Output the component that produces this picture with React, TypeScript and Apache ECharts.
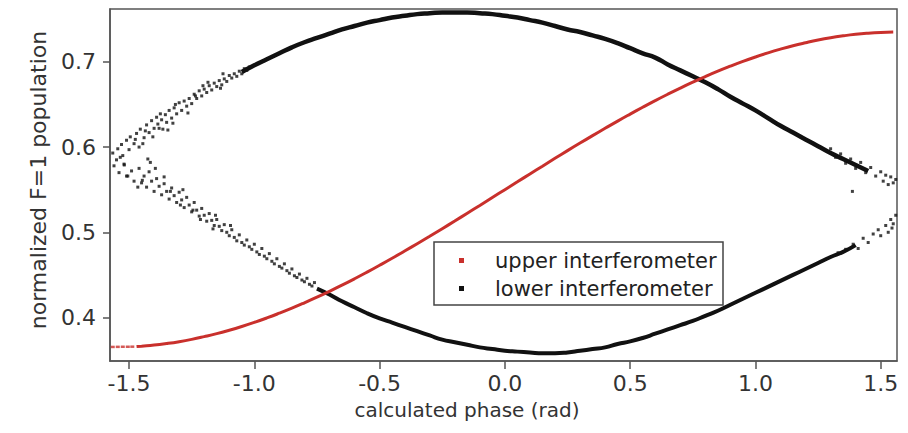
import React, { useEffect, useRef } from "react";
import * as echarts from "echarts";

// ---- tick labels ----
const xTicks = [-1.5, -1.0, -0.5, 0.0, 0.5, 1.0, 1.5];
const yTicks = [0.4, 0.5, 0.6, 0.7];

// ---- upper interferometer (red) ----
const upperX = [-1.47, -1.45, -1.4, -1.35, -1.3, -1.25, -1.2, -1.15, -1.1, -1.05, -1.0, -0.95, -0.9, -0.85, -0.8, -0.75, -0.7, -0.65, -0.6, -0.55, -0.5, -0.45, -0.4, -0.35, -0.3, -0.25, -0.2, -0.15, -0.1, -0.05, 0, 0.05, 0.1, 0.15, 0.2, 0.25, 0.3, 0.35, 0.4, 0.45, 0.5, 0.55, 0.6, 0.65, 0.7, 0.75, 0.8, 0.85, 0.9, 0.95, 1.0, 1.05, 1.1, 1.15, 1.2, 1.25, 1.3, 1.35, 1.4, 1.45, 1.5, 1.55];
const upperY = [0.3659, 0.3664, 0.3677, 0.3695, 0.3717, 0.3744, 0.3776, 0.3811, 0.3851, 0.3895, 0.3943, 0.3995, 0.4051, 0.411, 0.4173, 0.4239, 0.4308, 0.438, 0.4455, 0.4533, 0.4613, 0.4695, 0.478, 0.4866, 0.4953, 0.5042, 0.5132, 0.5224, 0.5315, 0.5408, 0.55, 0.5592, 0.5685, 0.5776, 0.5868, 0.5958, 0.6047, 0.6134, 0.622, 0.6305, 0.6387, 0.6467, 0.6545, 0.662, 0.6692, 0.6761, 0.6827, 0.689, 0.6949, 0.7005, 0.7057, 0.7105, 0.7149, 0.7189, 0.7224, 0.7256, 0.7283, 0.7305, 0.7323, 0.7336, 0.7345, 0.735];
const upperTailX = [-1.565, -1.545, -1.525, -1.505, -1.487];
const upperTailY = [0.3655, 0.3656, 0.3657, 0.3657, 0.3658];

// ---- lower interferometer (black), upper arc ----
const lowTopX = [-1.05, -1.0, -0.95, -0.9, -0.85, -0.8, -0.75, -0.7, -0.65, -0.6, -0.55, -0.5, -0.45, -0.4, -0.35, -0.3, -0.25, -0.2, -0.15, -0.1, -0.05, 0.0, 0.05, 0.1, 0.15, 0.2, 0.25, 0.3, 0.35, 0.4, 0.45, 0.5, 0.55, 0.6, 0.65, 0.7, 0.75, 0.8, 0.85, 0.9, 0.95, 1.0, 1.05, 1.1, 1.15, 1.2, 1.25, 1.3, 1.35, 1.4, 1.45];
const lowTopY = [0.688, 0.696, 0.703, 0.71, 0.717, 0.723, 0.728, 0.733, 0.738, 0.742, 0.746, 0.749, 0.752, 0.754, 0.756, 0.757, 0.758, 0.758, 0.758, 0.757, 0.756, 0.754, 0.752, 0.749, 0.746, 0.742, 0.738, 0.735, 0.731, 0.727, 0.722, 0.716, 0.71, 0.705, 0.697, 0.69, 0.683, 0.676, 0.668, 0.659, 0.651, 0.643, 0.634, 0.625, 0.617, 0.609, 0.601, 0.593, 0.586, 0.579, 0.572];

// ---- lower interferometer (black), lower arc ----
const lowBotX = [-0.75, -0.7, -0.65, -0.6, -0.55, -0.5, -0.45, -0.4, -0.35, -0.3, -0.25, -0.2, -0.15, -0.1, -0.05, 0.0, 0.05, 0.1, 0.15, 0.2, 0.25, 0.3, 0.35, 0.4, 0.45, 0.5, 0.55, 0.6, 0.65, 0.7, 0.75, 0.8, 0.85, 0.9, 0.95, 1.0, 1.05, 1.1, 1.15, 1.2, 1.25, 1.3, 1.35, 1.4];
const lowBotY = [0.434, 0.427, 0.419, 0.412, 0.405, 0.399, 0.394, 0.389, 0.384, 0.379, 0.374, 0.371, 0.368, 0.365, 0.363, 0.361, 0.36, 0.359, 0.358, 0.358, 0.359, 0.361, 0.363, 0.365, 0.369, 0.372, 0.376, 0.381, 0.386, 0.391, 0.396, 0.402, 0.408, 0.415, 0.422, 0.429, 0.436, 0.443, 0.45, 0.457, 0.464, 0.471, 0.477, 0.485];

// ---- lower interferometer (black), scattered points ----
const scatterX = [
  -1.565, -1.55, -1.545, -1.53, -1.525, -1.519, -1.51, -1.5, -1.495, -1.48, -1.47, -1.46, -1.455, -1.447, -1.44, -1.43, -1.42, -1.41, -1.4, -1.39, -1.385, -1.37, -1.365, -1.355, -1.35, -1.34, -1.33, -1.32, -1.31, -1.3, -1.29, -1.28, -1.27, -1.26, -1.25, -1.24, -1.23, -1.22, -1.21, -1.2, -1.19, -1.18, -1.17, -1.16, -1.15, -1.14, -1.13, -1.12, -1.11, -1.1, -1.09, -1.08, -1.07, -1.06, -1.05, -1.04, -1.03, -1.02,
  -1.56, -1.54, -1.52, -1.51, -1.49, -1.48, -1.46, -1.45, -1.44, -1.43, -1.42, -1.41, -1.4, -1.39, -1.38, -1.37, -1.36, -1.35, -1.34, -1.33, -1.32, -1.31, -1.3, -1.29, -1.28, -1.27, -1.26, -1.25, -1.24, -1.23, -1.22, -1.21, -1.2, -1.19, -1.18, -1.17, -1.16, -1.15, -1.14, -1.13, -1.12, -1.11, -1.1, -1.09, -1.08, -1.07, -1.06, -1.05, -1.04, -1.03, -1.02, -1.01, -1.0, -0.99, -0.98, -0.97, -0.96, -0.95, -0.94, -0.93, -0.92, -0.91, -0.9, -0.89, -0.88, -0.87, -0.86, -0.85, -0.84, -0.83, -0.82, -0.81, -0.8, -0.79, -0.78, -0.77, -0.76,
  -1.535, -1.505, -1.475, -1.465, -1.435, -1.425, -1.405, -1.395, -1.375, -1.345, -1.335, -1.315, -1.295, -1.265, -1.235, -1.215, -1.185, -1.155, -1.125, -1.095, -1.445, -1.415, -1.38, -1.36, -1.325, -1.285, -1.245, -1.205, -1.165, -1.135,
  1.3, 1.32, 1.34, 1.36, 1.38, 1.387, 1.4, 1.42, 1.44, 1.46, 1.48, 1.5, 1.51, 1.52, 1.53, 1.54, 1.55, 1.56,
  1.33, 1.36, 1.39, 1.41, 1.43, 1.45, 1.47, 1.49, 1.5, 1.52, 1.53, 1.54, 1.545, 1.55, 1.56
];
const scatterY = [
  0.593, 0.585, 0.598, 0.603, 0.59, 0.579, 0.608, 0.597, 0.612, 0.604, 0.616, 0.6, 0.621, 0.561, 0.611, 0.626, 0.617, 0.631, 0.622, 0.635, 0.627, 0.632, 0.621, 0.638, 0.629, 0.643, 0.634, 0.646, 0.639, 0.652, 0.643, 0.654, 0.648, 0.657, 0.651, 0.662, 0.657, 0.666, 0.66, 0.668, 0.664, 0.672, 0.667, 0.675, 0.671, 0.678, 0.673, 0.68, 0.677, 0.684, 0.681, 0.686, 0.683, 0.689, 0.686, 0.692, 0.69, 0.694,
  0.578, 0.57, 0.58, 0.566, 0.572, 0.56, 0.575, 0.558, 0.566, 0.553, 0.571, 0.56, 0.548, 0.563, 0.554, 0.544, 0.557, 0.548, 0.539, 0.552, 0.543, 0.535, 0.547, 0.538, 0.529, 0.541, 0.532, 0.524, 0.535, 0.526, 0.519, 0.528, 0.52, 0.513, 0.522, 0.514, 0.508, 0.515, 0.507, 0.502, 0.509, 0.5, 0.496, 0.503, 0.494, 0.49, 0.497, 0.488, 0.485, 0.491, 0.483, 0.48, 0.486, 0.477, 0.474, 0.481, 0.472, 0.469, 0.475, 0.466, 0.463, 0.469, 0.46, 0.458, 0.463, 0.455, 0.452, 0.457, 0.449, 0.447, 0.451, 0.444, 0.442, 0.446, 0.439, 0.437, 0.441,
  0.588, 0.566, 0.609, 0.553, 0.619, 0.586, 0.612, 0.575, 0.639, 0.62, 0.548, 0.65, 0.532, 0.64, 0.66, 0.515, 0.676, 0.52, 0.686, 0.508, 0.604, 0.582, 0.622, 0.565, 0.628, 0.55, 0.526, 0.672, 0.504, 0.669,
  0.598, 0.588, 0.592, 0.581, 0.586, 0.548, 0.575, 0.582, 0.57, 0.576, 0.566, 0.571, 0.56, 0.567, 0.556, 0.565, 0.558, 0.562,
  0.476, 0.48, 0.486, 0.481, 0.493, 0.488, 0.498, 0.503, 0.496, 0.508, 0.5, 0.515, 0.505, 0.51, 0.52
];

const FONT = "DejaVu Sans";
const RED = "#c9302c";
const BLACK = "#111111";
const AXIS = "#555555";

const zip = (xs: number[], ys: number[]) => xs.map((x, i) => [x, ys[i]]);

export default function App() {
  const ref = useRef<HTMLDivElement>(null);
  useEffect(() => {
    document.body.style.margin = "0";
    const chart = echarts.init(ref.current!, null, { renderer: "svg" });
    chart.setOption({
      animation: false,
      backgroundColor: "#ffffff",
      grid: {
        left: 110,
        right: 11,
        top: 9,
        bottom: 72,
        show: true,
        borderColor: AXIS,
        borderWidth: 1.5,
        backgroundColor: "transparent",
      },
      xAxis: {
        type: "value",
        min: -1.576,
        max: 1.565,
        splitLine: { show: false },
        axisLine: { show: true, onZero: false, lineStyle: { color: AXIS, width: 1.5 } },
        axisTick: { show: true, inside: false, length: 8, customValues: xTicks, lineStyle: { color: AXIS, width: 1.5 } },
        axisLabel: {
          customValues: xTicks,
          formatter: (v: number) => v.toFixed(1),
          fontFamily: FONT,
          fontSize: 22,
          color: "#333",
          margin: 11,
        },
      },
      yAxis: {
        type: "value",
        min: 0.349,
        max: 0.762,
        splitLine: { show: false },
        axisLine: { show: true, onZero: false, lineStyle: { color: AXIS, width: 1.5 } },
        axisTick: { show: true, inside: false, length: 7, customValues: yTicks, lineStyle: { color: AXIS, width: 1.5 } },
        axisLabel: {
          customValues: yTicks,
          formatter: (v: number) => v.toFixed(1),
          fontFamily: FONT,
          fontSize: 22,
          color: "#333",
          margin: 14,
        },
      },
      series: [
        {
          name: "upper interferometer",
          type: "line",
          data: zip(upperX, upperY),
          showSymbol: false,
          smooth: true,
          lineStyle: { color: RED, width: 3 },
          itemStyle: { color: RED },
          z: 3,
        },
        {
          name: "upper tail",
          type: "scatter",
          data: zip(upperTailX, upperTailY),
          symbol: "rect",
          symbolSize: [4, 2.5],
          itemStyle: { color: RED },
          z: 3,
        },
        {
          name: "lower interferometer",
          type: "line",
          data: zip(lowTopX, lowTopY),
          showSymbol: false,
          smooth: true,
          lineStyle: { color: BLACK, width: 4.5 },
          itemStyle: { color: BLACK },
          z: 2,
        },
        {
          name: "lower interferometer",
          type: "line",
          data: zip(lowBotX, lowBotY),
          showSymbol: false,
          smooth: true,
          lineStyle: { color: BLACK, width: 4 },
          itemStyle: { color: BLACK },
          z: 2,
        },
        {
          name: "lower interferometer",
          type: "scatter",
          data: zip(scatterX, scatterY),
          symbol: "rect",
          symbolSize: 3,
          itemStyle: { color: BLACK },
          z: 2,
        },
      ],
      graphic: [
        {
          type: "text",
          x: 467,
          y: 410,
          style: {
            text: "calculated phase (rad)",
            font: `20px "${FONT}"`,
            fill: "#333",
            align: "center",
            verticalAlign: "middle",
          },
        },
        {
          type: "text",
          x: 38,
          y: 180,
          rotation: Math.PI / 2,
          style: {
            text: "normalized F=1 population",
            font: `22px "${FONT}"`,
            fill: "#333",
            align: "center",
            verticalAlign: "middle",
          },
        },
        {
          type: "group",
          z: 100,
          children: [
            {
              type: "rect",
              shape: { x: 434, y: 242, width: 289, height: 63 },
              style: { fill: "#ffffff", stroke: "#444", lineWidth: 1.5 },
            },
            {
              type: "rect",
              shape: { x: 459, y: 258, width: 5, height: 5 },
              style: { fill: RED },
            },
            {
              type: "rect",
              shape: { x: 459, y: 286, width: 5, height: 5 },
              style: { fill: BLACK },
            },
            {
              type: "text",
              x: 495,
              y: 261,
              style: {
                text: "upper interferometer",
                font: `21px "${FONT}"`,
                fill: "#222",
                verticalAlign: "middle",
              },
            },
            {
              type: "text",
              x: 495,
              y: 289,
              style: {
                text: "lower interferometer",
                font: `21px "${FONT}"`,
                fill: "#222",
                verticalAlign: "middle",
              },
            },
          ],
        },
      ],
    });
    return () => chart.dispose();
  }, []);
  return <div ref={ref} style={{ width: 908, height: 433 }} />;
}
